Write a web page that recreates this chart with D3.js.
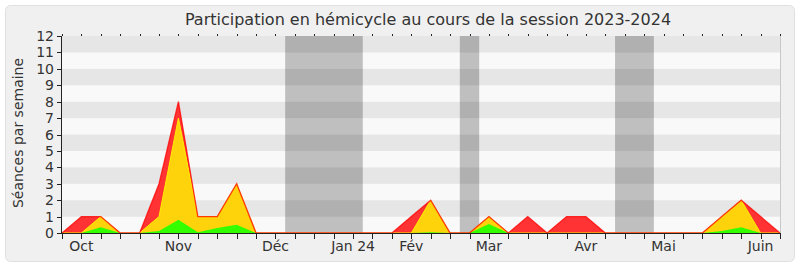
<!DOCTYPE html>
<html lang="fr">
<head>
<meta charset="utf-8">
<title>Participation en hémicycle</title>
<script src="https://cdn.jsdelivr.net/npm/d3@7"></script>
<style>
  body { margin: 0; background: #fff; }
  text { font-family: "DejaVu Sans", sans-serif; fill: #333; }
</style>
</head>
<body>
<script>
// weekly values, session 2023-2024 (one entry per week)
var red    = [0,1,1,0,0,3,8,1,1,3,0,0,0,0,0,0,0,0,1,2,0,0,1,0,1,0,1,1,0,0,0,0,0,0,1,2,1,0];
var yellow = [0,0,1,0,0,1,7,1,1,3,0,0,0,0,0,0,0,0,0,2,0,0,1,0,0,0,0,0,0,0,0,0,0,0,1,2,0,0];
var green  = [0,0,0.35,0,0,0.12,0.8,0.05,0.3,0.5,0,0,0,0,0,0,0,0,0,0.05,0,0,0.55,0,0,0,0,0,0,0,0,0,0,0,0.12,0.35,0,0];

var monthLabels = ["Oct","Nov","Déc","Jan 24","Fév","Mar","Avr","Mai","Juin"];
var monthWeeks  = [1,6,11,15,18,22,27,31,36];

// vacation periods (in weeks)
var vacStart = [11.5,20.5,28.5];
var vacEnd   = [15.5,21.5,30.5];

var yTicks = d3.range(0, 13);

var w = 800, h = 267;
var pLeft = 62, pRight = 780, pTop = 36, pBottom = 233;

var svg = d3.select("body").append("svg")
    .attr("width", w)
    .attr("height", h);

svg.append("rect")
    .attr("x", 5.5).attr("y", 5.5)
    .attr("width", 789).attr("height", 256)
    .attr("rx", 5)
    .attr("fill", "#f0f0f0")
    .attr("stroke", "#e0e0e0");

var xScale = d3.scaleLinear()
    .domain([0, red.length - 1])
    .range([pLeft, pRight]);

var yScale = d3.scaleLinear()
    .domain([0, 12])
    .range([pBottom, pTop]);

// stripes
svg.selectAll("rect.stripe")
   .data(d3.range(0, 12))
   .enter()
   .append("rect")
   .attr("class", "stripe")
   .attr("x", pLeft)
   .attr("y", function(d) { return yScale(d + 1); })
   .attr("width", pRight - pLeft)
   .attr("height", function(d) { return yScale(d) - yScale(d + 1); })
   .attr("fill", function(d) { return d % 2 == 1 ? "#e6e6e6" : "#f9f9f9"; });

// vacations
svg.selectAll("rect.vac")
   .data(vacStart)
   .enter()
   .append("rect")
   .attr("class", "vac")
   .attr("x", function(d) { return xScale(d); })
   .attr("y", pTop)
   .attr("width", function(d, i) { return xScale(vacEnd[i]) - xScale(d); })
   .attr("height", pBottom - pTop)
   .attr("fill", "#000")
   .attr("fill-opacity", 0.23);

function area(vals) {
    return d3.area()
        .x(function(d, i) { return xScale(i); })
        .y0(pBottom)
        .y1(function(d) { return yScale(d); })(vals);
}
function line(vals) {
    return d3.line()
        .x(function(d, i) { return xScale(i); })
        .y(function(d) { return yScale(d); })(vals);
}

svg.append("path").attr("d", area(red)).attr("fill", "#ff3333");
svg.append("path").attr("d", area(yellow)).attr("fill", "#ffd30c");
svg.append("path").attr("d", line(yellow)).attr("fill", "none").attr("stroke", "#ffee00").attr("stroke-width", 1);
svg.append("path").attr("d", area(green)).attr("fill", "#33ff00");

svg.append("path").attr("d", line(red)).attr("fill", "none")
   .attr("stroke", "#ff0000").attr("stroke-width", 1.3).attr("stroke-opacity", 0.75);

// axes lines
svg.append("line")
   .attr("x1", pRight + 0.5).attr("x2", pRight + 0.5)
   .attr("y1", pTop).attr("y2", pBottom)
   .attr("stroke", "#c8c8c8");
svg.append("line")
   .attr("x1", pLeft - 0.5).attr("x2", pLeft - 0.5)
   .attr("y1", pTop).attr("y2", pBottom + 0.5)
   .attr("stroke", "#222");
svg.append("line")
   .attr("x1", pLeft - 0.5).attr("x2", pRight + 0.5)
   .attr("y1", pBottom + 0.5).attr("y2", pBottom + 0.5)
   .attr("stroke", "#222");

// y ticks
svg.selectAll("line.ytick")
   .data(yTicks)
   .enter()
   .append("line")
   .attr("x1", pLeft - 5).attr("x2", pLeft)
   .attr("y1", function(d) { return Math.round(yScale(d)) + 0.5; })
   .attr("y2", function(d) { return Math.round(yScale(d)) + 0.5; })
   .attr("stroke", "#222");

svg.selectAll("text.ylab")
   .data(yTicks)
   .enter()
   .append("text")
   .attr("x", pLeft - 8)
   .attr("y", function(d) { return yScale(d) + 5; })
   .attr("text-anchor", "end")
   .attr("font-size", "14px")
   .text(function(d) { return d; });

// x ticks (weekly)
var weeks = d3.range(red.length);
svg.selectAll("line.xtick")
   .data(weeks)
   .enter()
   .append("line")
   .attr("x1", function(d) { return Math.round(xScale(d)) + 0.5; })
   .attr("x2", function(d) { return Math.round(xScale(d)) + 0.5; })
   .attr("y1", pBottom).attr("y2", pBottom + 6)
   .attr("stroke", "#222");
svg.selectAll("rect.ttick")
   .data(weeks)
   .enter()
   .append("rect")
   .attr("x", function(d) { return Math.round(xScale(d)); })
   .attr("y", pTop - 2)
   .attr("width", 1).attr("height", 2)
   .attr("fill", "#222");

svg.selectAll("text.xlab")
   .data(monthLabels)
   .enter()
   .append("text")
   .attr("x", function(d, i) { return xScale(monthWeeks[i]); })
   .attr("y", 251)
   .attr("text-anchor", "middle")
   .attr("font-size", "14px")
   .text(function(d) { return d; });

svg.append("text")
   .attr("x", 428).attr("y", 25)
   .attr("text-anchor", "middle")
   .attr("font-size", "16px")
   .text("Participation en hémicycle au cours de la session 2023-2024");

svg.append("text")
   .attr("transform", "translate(23,133) rotate(-90)")
   .attr("text-anchor", "middle")
   .attr("font-size", "14px")
   .text("Séances par semaine");
</script>
</body>
</html>
